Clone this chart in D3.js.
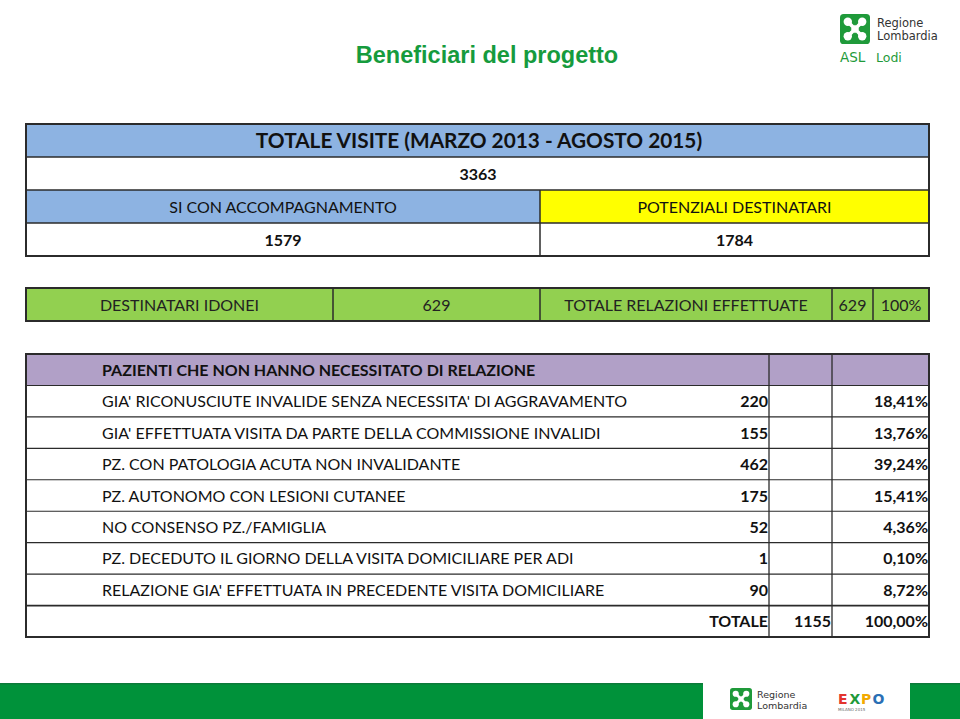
<!DOCTYPE html>
<html>
<head>
<meta charset="utf-8">
<script src="https://cdn.jsdelivr.net/npm/d3@7"></script>
<style>
  body { margin: 0; background: #fff; }
  svg { display: block; }
</style>
</head>
<body>
<svg id="chart" width="960" height="719"></svg>
<script>
// data
const pageTitle = "Beneficiari del progetto";
const visitsTitle = "TOTALE VISITE (MARZO 2013 - AGOSTO 2015)";
const visitsTotal = 3363;
const splitLabels = ["SI CON ACCOMPAGNAMENTO", "POTENZIALI DESTINATARI"];
const splitValues = [1579, 1784];
const idoneiCells = ["DESTINATARI IDONEI", "629", "TOTALE RELAZIONI EFFETTUATE", "629", "100%"];
const reasonsHeader = "PAZIENTI CHE NON HANNO NECESSITATO DI RELAZIONE";
const reasons = [
  "GIA' RICONUSCIUTE INVALIDE SENZA NECESSITA' DI AGGRAVAMENTO",
  "GIA' EFFETTUATA VISITA DA PARTE DELLA COMMISSIONE INVALIDI",
  "PZ. CON PATOLOGIA ACUTA NON INVALIDANTE",
  "PZ. AUTONOMO CON LESIONI CUTANEE",
  "NO CONSENSO PZ./FAMIGLIA",
  "PZ. DECEDUTO IL GIORNO DELLA VISITA DOMICILIARE PER ADI",
  "RELAZIONE GIA' EFFETTUATA IN PRECEDENTE VISITA DOMICILIARE"
];
const reasonCounts = [220, 155, 462, 175, 52, 1, 90];
const reasonPercents = ["18,41%", "13,76%", "39,24%", "15,41%", "4,36%", "0,10%", "8,72%"];
const totalLabel = "TOTALE";
const totalCount = 1155;
const totalPercent = "100,00%";

const svg = d3.select("#chart");
const font = "Lato, 'Open Sans', sans-serif";
const border = "#2b2b2b";
const blue = "#8db3e2", yellow = "#ffff00", green = "#92d050", purple = "#b1a0c7";

// page title
svg.append("text")
  .attr("x", 487).attr("y", 63)
  .attr("text-anchor", "middle")
  .attr("font-family", "'Liberation Sans', Arial, sans-serif")
  .attr("font-weight", "bold").attr("font-size", 23.5)
  .attr("fill", "#169b3d")
  .text(pageTitle);

// ---------- top table ----------
const x = d3.scaleLinear().domain([0, 1]).range([26, 929]);
const mid = 540;
const yTop = d3.scaleBand().domain(["title", "total", "split", "splitVal"]).range([124, 256]);

const topTbl = svg.append("g");
// fills
topTbl.append("rect").attr("x", x(0)).attr("y", yTop("title"))
  .attr("width", x(1) - x(0)).attr("height", yTop.bandwidth()).attr("fill", blue);
topTbl.append("rect").attr("x", x(0)).attr("y", yTop("split"))
  .attr("width", mid - x(0)).attr("height", yTop.bandwidth()).attr("fill", blue);
topTbl.append("rect").attr("x", mid).attr("y", yTop("split"))
  .attr("width", x(1) - mid).attr("height", yTop.bandwidth()).attr("fill", yellow);
// lines
topTbl.selectAll("line.h").data(yTop.domain().slice(1))
  .join("line").attr("class", "h")
  .attr("x1", x(0)).attr("x2", x(1))
  .attr("y1", d => yTop(d)).attr("y2", d => yTop(d))
  .attr("stroke", border).attr("stroke-width", 1.5);
topTbl.append("line").attr("x1", mid).attr("x2", mid)
  .attr("y1", yTop("split")).attr("y2", yTop("splitVal") + yTop.bandwidth())
  .attr("stroke", border).attr("stroke-width", 1.5);
topTbl.append("rect").attr("x", x(0)).attr("y", yTop("title"))
  .attr("width", x(1) - x(0)).attr("height", yTop.range()[1] - yTop.range()[0])
  .attr("fill", "none").attr("stroke", border).attr("stroke-width", 2);

const cy = d => yTop(d) + yTop.bandwidth() / 2 + 6;
topTbl.append("text").attr("x", 479).attr("y", cy("title") + 1)
  .attr("text-anchor", "middle").attr("font-family", font)
  .attr("font-weight", "bold").attr("font-size", 20.8).attr("fill", "#111")
  .text(visitsTitle);
topTbl.append("text").attr("x", 478).attr("y", cy("total"))
  .attr("text-anchor", "middle").attr("font-family", font)
  .attr("font-weight", "bold").attr("font-size", 16).attr("fill", "#111")
  .text(visitsTotal);
const splitX = [(x(0) + mid) / 2, (mid + x(1)) / 2];
topTbl.selectAll("text.sl").data(splitLabels).join("text").attr("class", "sl")
  .attr("x", (d, i) => splitX[i]).attr("y", cy("split"))
  .attr("text-anchor", "middle").attr("font-family", font)
  .attr("font-size", 16).attr("fill", "#111").text(d => d);
topTbl.selectAll("text.sv").data(splitValues).join("text").attr("class", "sv")
  .attr("x", (d, i) => splitX[i]).attr("y", cy("splitVal"))
  .attr("text-anchor", "middle").attr("font-family", font)
  .attr("font-weight", "bold").attr("font-size", 16).attr("fill", "#111").text(d => d);

// ---------- green row ----------
const gCols = [26, 333, 540, 832, 873, 929];
const gY = 288, gH = 33;
const gRow = svg.append("g");
gRow.append("rect").attr("x", gCols[0]).attr("y", gY)
  .attr("width", gCols[5] - gCols[0]).attr("height", gH).attr("fill", green)
  .attr("stroke", border).attr("stroke-width", 2);
gRow.selectAll("line").data(gCols.slice(1, -1)).join("line")
  .attr("x1", d => d).attr("x2", d => d).attr("y1", gY).attr("y2", gY + gH)
  .attr("stroke", border).attr("stroke-width", 1.5);
gRow.selectAll("text").data(idoneiCells).join("text")
  .attr("x", (d, i) => (gCols[i] + gCols[i + 1]) / 2).attr("y", gY + gH / 2 + 6)
  .attr("text-anchor", "middle").attr("font-family", font)
  .attr("font-size", 16).attr("fill", "#222").text(d => d);

// ---------- purple table ----------
const pLeft = 26, pRight = 929, c1 = 769, c2 = 832;
const rowKeys = ["header"].concat(reasons.map((d, i) => "r" + i), ["total"]);
const yP = d3.scaleBand().domain(rowKeys).range([354, 637]);
const pt = svg.append("g");
pt.append("rect").attr("x", pLeft).attr("y", yP("header"))
  .attr("width", pRight - pLeft).attr("height", yP.bandwidth()).attr("fill", purple);
pt.selectAll("line.h").data(rowKeys.slice(1)).join("line").attr("class", "h")
  .attr("x1", pLeft).attr("x2", pRight)
  .attr("y1", d => yP(d)).attr("y2", d => yP(d))
  .attr("stroke", border).attr("stroke-width", d => d === "total" ? 1.8 : 1.1);
pt.selectAll("line.v").data([c1, c2]).join("line").attr("class", "v")
  .attr("x1", d => d).attr("x2", d => d)
  .attr("y1", yP.range()[0]).attr("y2", yP.range()[1])
  .attr("stroke", border).attr("stroke-width", 1.3);
pt.append("rect").attr("x", pLeft).attr("y", yP.range()[0])
  .attr("width", pRight - pLeft).attr("height", yP.range()[1] - yP.range()[0])
  .attr("fill", "none").attr("stroke", border).attr("stroke-width", 2);

const fs = 16;
const py = d => yP(d) + yP.bandwidth() / 2 + 6;
pt.append("text").attr("x", 102).attr("y", py("header"))
  .attr("font-family", font).attr("font-weight", "bold").attr("font-size", fs)
  .attr("fill", "#111").text(reasonsHeader);
pt.selectAll("text.lab").data(reasons).join("text").attr("class", "lab")
  .attr("x", 102).attr("y", (d, i) => py("r" + i))
  .attr("font-family", font).attr("font-size", fs).attr("fill", "#111").text(d => d);
pt.selectAll("text.cnt").data(reasonCounts).join("text").attr("class", "cnt")
  .attr("x", c1 - 1).attr("y", (d, i) => py("r" + i)).attr("text-anchor", "end")
  .attr("font-family", font).attr("font-weight", "bold").attr("font-size", fs)
  .attr("fill", "#111").text(d => d);
pt.selectAll("text.pct").data(reasonPercents).join("text").attr("class", "pct")
  .attr("x", pRight - 1).attr("y", (d, i) => py("r" + i)).attr("text-anchor", "end")
  .attr("font-family", font).attr("font-weight", "bold").attr("font-size", fs)
  .attr("fill", "#111").text(d => d);
pt.selectAll("text.tot").data([[totalLabel, c1 - 1], [totalCount, c2 - 1], [totalPercent, pRight - 1]])
  .join("text").attr("class", "tot")
  .attr("x", d => d[1]).attr("y", py("total")).attr("text-anchor", "end")
  .attr("font-family", font).attr("font-weight", "bold").attr("font-size", fs)
  .attr("fill", "#111").text(d => d[0]);

// ---------- logos ----------
function lombardiaMark(g, x0, y0, s) {
  g.append("rect").attr("x", x0).attr("y", y0).attr("width", s).attr("height", s)
    .attr("rx", s * 0.12).attr("fill", "#1f9a3a");
  const c = [x0 + s / 2, y0 + s / 2];
  const r = s * 0.14, off = s * 0.24;
  [[-1, -1], [1, -1], [-1, 1], [1, 1]].forEach(([dx, dy]) => {
    g.append("circle").attr("cx", c[0] + dx * off).attr("cy", c[1] + dy * off)
      .attr("r", r).attr("fill", "#fff");
  });
  g.append("rect").attr("x", c[0] - s * 0.1).attr("y", c[1] - s * 0.1)
    .attr("width", s * 0.2).attr("height", s * 0.2).attr("fill", "#fff")
    .attr("transform", `rotate(45 ${c[0]} ${c[1]})`);
  g.append("path")
    .attr("d", `M${c[0] - off},${c[1] - off}L${c[0] + off},${c[1] + off}M${c[0] + off},${c[1] - off}L${c[0] - off},${c[1] + off}`)
    .attr("stroke", "#fff").attr("stroke-width", s * 0.12);
}
const logo = svg.append("g");
lombardiaMark(logo, 840, 14, 30);
logo.append("text").attr("x", 877).attr("y", 27).attr("font-family", "'DejaVu Sans', sans-serif")
  .attr("font-size", 11.5).attr("fill", "#333").text("Regione");
logo.append("text").attr("x", 877).attr("y", 40).attr("font-family", "'DejaVu Sans', sans-serif")
  .attr("font-size", 11.5).attr("fill", "#333").text("Lombardia");
logo.append("text").attr("x", 840).attr("y", 62).attr("font-family", "'DejaVu Sans', sans-serif")
  .attr("font-size", 13.5).attr("fill", "#1f9a3a").text("ASL");
logo.append("text").attr("x", 876).attr("y", 62).attr("font-family", "'DejaVu Sans', sans-serif")
  .attr("font-size", 12.5).attr("fill", "#1f9a3a").text("Lodi");

// footer
const foot = svg.append("g");
foot.append("rect").attr("x", 0).attr("y", 683).attr("width", 960).attr("height", 36).attr("fill", "#00923a");
foot.append("rect").attr("x", 0).attr("y", 683).attr("width", 960).attr("height", 1.5).attr("fill", "#0c7a3a");
foot.append("rect").attr("x", 703).attr("y", 683).attr("width", 207).attr("height", 36).attr("fill", "#fff");
lombardiaMark(foot, 730, 688, 22);
foot.append("text").attr("x", 757).attr("y", 698).attr("font-family", "'DejaVu Sans', sans-serif")
  .attr("font-size", 9.5).attr("fill", "#333").text("Regione");
foot.append("text").attr("x", 757).attr("y", 709).attr("font-family", "'DejaVu Sans', sans-serif")
  .attr("font-size", 9.5).attr("fill", "#333").text("Lombardia");
const expoColors = ["#e3342f", "#1f9a3a", "#f2a900", "#2a6fb5"];
foot.selectAll("text.expo").data(["E", "X", "P", "O"]).join("text").attr("class", "expo")
  .attr("x", (d, i) => 838 + i * 11.5).attr("y", 704)
  .attr("font-family", "'DejaVu Sans', sans-serif").attr("font-weight", "bold")
  .attr("font-size", 14).attr("fill", (d, i) => expoColors[i]).text(d => d);
foot.append("text").attr("x", 838).attr("y", 711).attr("font-family", "'DejaVu Sans', sans-serif")
  .attr("font-size", 4).attr("fill", "#666").text("MILANO 2015");
</script>
</body>
</html>
